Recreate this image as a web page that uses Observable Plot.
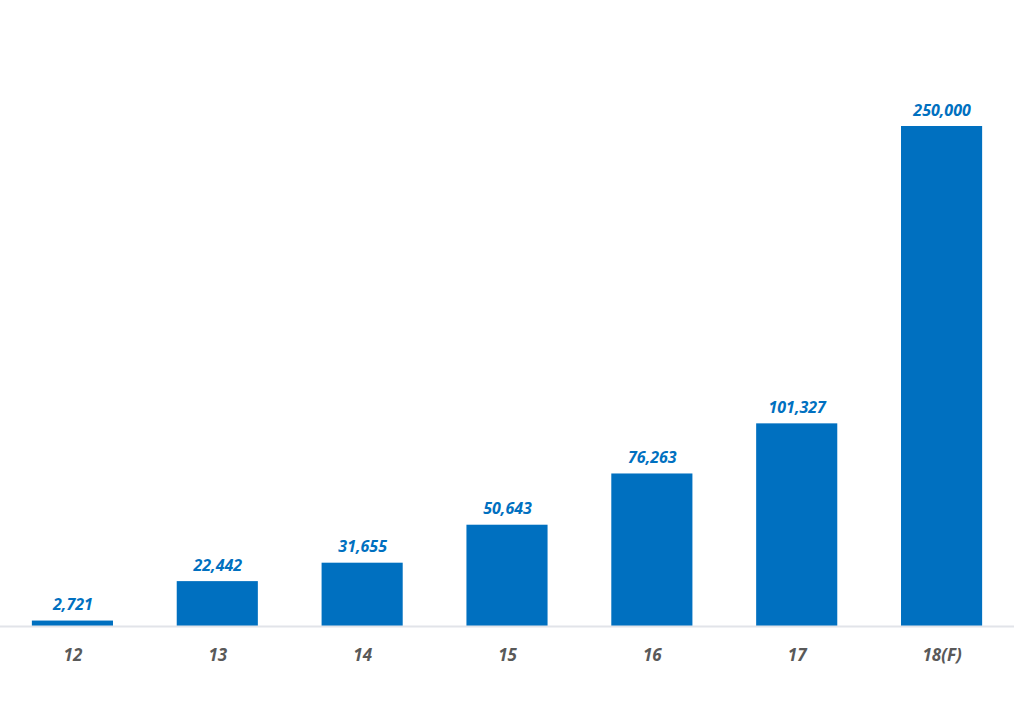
<!DOCTYPE html>
<html>
<head>
<meta charset="utf-8">
<script src="https://cdn.jsdelivr.net/npm/d3@7"></script>
<script src="https://cdn.jsdelivr.net/npm/@observablehq/plot@0.6"></script>
<style>
  html, body { margin: 0; padding: 0; background: #fff; }
  svg { display: block; }
</style>
</head>
<body>
<div id="chart"></div>
<script>
const categories = ["12", "13", "14", "15", "16", "17", "18(F)"];
const values = [2721, 22442, 31655, 50643, 76263, 101327, 250000];

const data = categories.map((c, i) => ({cat: c, value: values[i]}));

const chart = Plot.plot({
  width: 1024,
  height: 703,
  marginLeft: 0,
  marginRight: 10,
  marginTop: 126,
  marginBottom: 77,
  style: {background: "#fff", fontFamily: "'Open Sans', sans-serif"},
  x: {domain: categories, paddingInner: 0.44, paddingOuter: 0.22, round: false, label: null, tickSize: 0, tickPadding: 0},
  y: {domain: [0, 250000], axis: null},
  marks: [
    Plot.barY(data, {x: "cat", y: "value", fill: "#0070C0"}),
    Plot.ruleY([0], {stroke: "#e2e4e9", strokeWidth: 2}),
    Plot.text(data, {
      x: "cat", y: "value",
      text: d => d3.format(",")(d.value),
      dy: -16, fill: "#0070C0", fontSize: 16, fontWeight: "bold", fontStyle: "italic"
    }),
    Plot.axisX({
      tickSize: 0, tickPadding: 22, label: null,
      fontSize: 17, fontWeight: "bold", fontStyle: "italic", fill: "#595959"
    })
  ]
});
document.getElementById("chart").appendChild(chart);
</script>
</body>
</html>
